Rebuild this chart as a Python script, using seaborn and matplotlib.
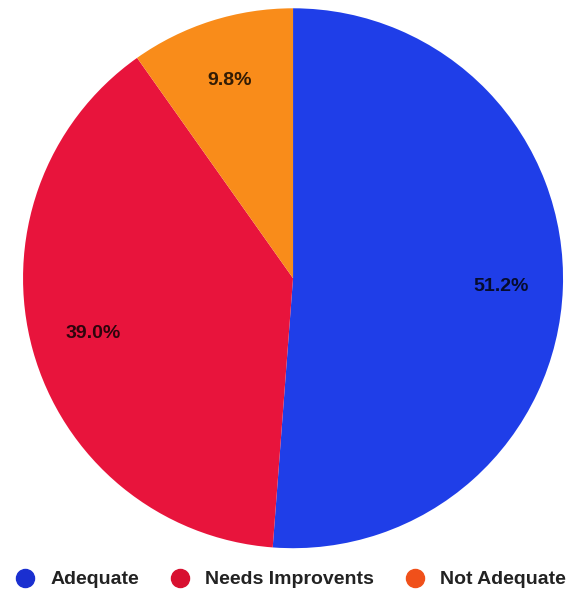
import matplotlib.pyplot as plt
import seaborn as sns
from matplotlib.lines import Line2D

categories = ["Adequate", "Needs Improvents", "Not Adequate"]
shares = [51.2, 39.0, 9.8]
pie_colors = ["#1f3ee8", "#e8143c", "#f98c1a"]
legend_colors = ["#1a2fd0", "#d81030", "#f0501a"]

sns.set_theme(style="white")
plt.rcParams["font.family"] = ["Liberation Sans", "DejaVu Sans"]

fig = plt.figure(figsize=(5.76, 5.92), dpi=100)
ax = fig.add_axes([0.040, 0.074, 0.9375, 0.912])

wedges, texts, autotexts = ax.pie(
    shares,
    colors=pie_colors,
    startangle=90,
    counterclock=False,
    autopct="%1.1f%%",
    pctdistance=0.77,
    wedgeprops={"linewidth": 0},
    textprops={"fontsize": 14, "color": "black", "alpha": 0.8, "fontweight": "bold"},
)
ax.set_aspect("auto")
ax.set_xlim(-1, 1)
ax.set_ylim(-1, 1)

handles = [
    Line2D([], [], marker="o", linestyle="", markersize=13, markerfacecolor=c, markeredgecolor=c)
    for c in legend_colors
]
fig.legend(
    handles,
    categories,
    loc="center",
    bbox_to_anchor=(0.505, 0.021),
    ncol=3,
    frameon=False,
    prop={"size": 14, "weight": "bold"},
    labelcolor="#222222",
    handlelength=1.0,
    handletextpad=0.8,
    columnspacing=1.6,
)

fig.savefig("out.png", dpi=100)
